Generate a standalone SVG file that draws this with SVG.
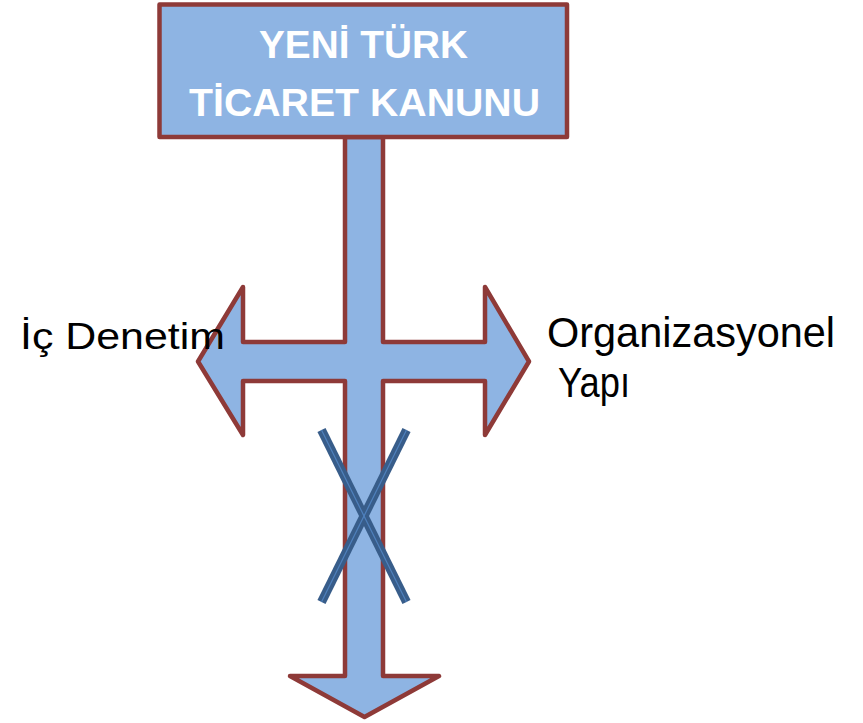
<svg xmlns="http://www.w3.org/2000/svg" width="863" height="723" viewBox="0 0 863 723">
<style>
.shape{fill:#8EB4E3;stroke:#8E3A38;stroke-width:4.5;stroke-linejoin:round}
.title{font-family:"Liberation Sans",Arial,sans-serif;font-weight:bold;font-size:39px;fill:#FFFFFF;text-anchor:middle}
.lbl{font-family:"Liberation Sans",Arial,sans-serif;font-size:37px;fill:#000000}
.lbl2{font-family:"Liberation Sans",Arial,sans-serif;font-size:42px;fill:#000000}
.xo{stroke:#385D8A;stroke-width:9;stroke-linecap:butt}
.xi{stroke:#4F81BD;stroke-width:1.2}
</style>
<rect width="863" height="723" fill="#FFFFFF"/>
<g id="connectors">
<polygon class="shape" points="345,137 345,342 243,342 243,287 198,361.5 243,435 243,381 345,381 345,676 290,676 364.5,717 439,676 383,676 383,381 485,381 485,435 529,361.5 485,287 485,342 383,342 383,137"/>
<g id="cross">
<line class="xo" x1="321.5" y1="430" x2="406.5" y2="602"/>
<line class="xo" x1="406.5" y1="430" x2="321.5" y2="602"/>
<line class="xi" x1="321.5" y1="430" x2="406.5" y2="602"/>
<line class="xi" x1="406.5" y1="430" x2="321.5" y2="602"/>
</g>
</g>
<g id="title">
<rect class="shape" x="159.5" y="4.5" width="407.5" height="132.5"/>
<text class="title" x="363.5" y="58" textLength="209" lengthAdjust="spacingAndGlyphs">YENİ TÜRK</text>
<text class="title" x="364.5" y="116" textLength="351" lengthAdjust="spacingAndGlyphs">TİCARET KANUNU</text>
</g>
<g id="ic-denetim">
<text class="lbl" x="20" y="349" textLength="205" lengthAdjust="spacingAndGlyphs">İç Denetim</text>
</g>
<g id="organizasyonel">
<text class="lbl2" x="547" y="347" textLength="288" lengthAdjust="spacingAndGlyphs">Organizasyonel</text>
<text class="lbl2" x="558" y="397" textLength="72" lengthAdjust="spacingAndGlyphs">Yapı</text>
</g>
</svg>
